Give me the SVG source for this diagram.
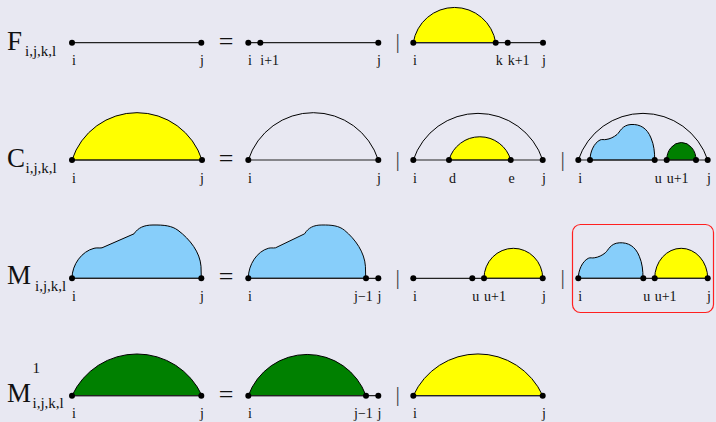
<svg xmlns="http://www.w3.org/2000/svg" width="716" height="422" viewBox="0 0 716 422">
<style>
.bg{fill:#e8e8f2}
.base{stroke:#222;stroke-width:1.2;fill:none}
.arc{stroke:#000;stroke-width:1;fill:none}
.yel{fill:#ffff00;stroke:#000;stroke-width:1}
.blu{fill:#87cefa;stroke:#000;stroke-width:1}
.grn{fill:#008000;stroke:#000;stroke-width:1}
.dot{fill:#000}
.lab{font-family:"Liberation Serif","Times New Roman",serif;font-size:14px;fill:#111}
.big{font-family:"Liberation Serif","Times New Roman",serif;font-size:27px;fill:#111}
.sub{font-family:"Liberation Serif","Times New Roman",serif;font-size:15px;fill:#111}
.op{font-family:"Liberation Serif","Times New Roman",serif;font-size:26px;fill:#111;text-anchor:middle}
.bar{font-family:"Liberation Serif","Times New Roman",serif;font-size:22px;fill:#444;text-anchor:middle}
.box{fill:none;stroke:#ff2020;stroke-width:1.2}
</style>
<defs>
<path id="blobBig" d="M0,0 C0,-14 10,-27 22,-30 C25,-30.8 27,-30 30,-30.5 L62,-44.5 C66,-50.5 72,-53.3 81,-53.3 C92,-53.5 100,-52.5 106,-48 C118,-39 128,-26 129,-12 L129.3,0 Z"/>
<path id="blobSmall" d="M0,0 C0,-8 4,-17 10,-20 C12,-21 14,-20 16,-20.5 C20,-21 24,-23 27,-25.5 C30,-28 32,-35 41,-35.5 C50,-36 57,-32 61,-22 C64,-15 64.7,-8 64.7,0 Z"/>
</defs>
<rect class="bg" x="0" y="0" width="716" height="422"/>

<!-- Row 1: F -->
<g id="rowF">
<text class="big" x="7" y="50">F</text>
<text class="sub" x="25" y="55.5">i,j,k,l</text>
<text class="op" x="226" y="49.5">=</text>
<text class="bar" x="397.7" y="48">|</text>
</g>
<g id="F-lhs">
<line class="base" x1="72" y1="42.7" x2="201.3" y2="42.7"/>
<circle class="dot" cx="72" cy="42.7" r="3"/><circle class="dot" cx="201.3" cy="42.7" r="3"/>
<text class="lab" x="72" y="65.2">i</text><text class="lab" x="200" y="65.2">j</text>
</g>
<g id="F-rhs1">
<line class="base" x1="248.3" y1="42.7" x2="378.3" y2="42.7"/>
<circle class="dot" cx="248.3" cy="42.7" r="3"/><circle class="dot" cx="260.3" cy="42.7" r="3"/><circle class="dot" cx="378.3" cy="42.7" r="3"/>
<text class="lab" x="248" y="65.2">i</text><text class="lab" x="260.3" y="65.2">i+1</text><text class="lab" x="377" y="65.2">j</text>
</g>
<g id="F-rhs2">
<path class="yel" d="M413.3,42.7 A41.7,41.7 0 0 1 495.7,42.7 Z"/>
<line class="base" x1="413.3" y1="42.7" x2="543" y2="42.7"/>
<circle class="dot" cx="413.3" cy="42.7" r="3"/><circle class="dot" cx="495.7" cy="42.7" r="3"/><circle class="dot" cx="507.7" cy="42.7" r="3"/><circle class="dot" cx="543" cy="42.7" r="3"/>
<text class="lab" x="413" y="65.2">i</text><text class="lab" x="495.7" y="65.2">k</text><text class="lab" x="507.7" y="65.2">k+1</text><text class="lab" x="542" y="65.2">j</text>
</g>

<!-- Row 2: C -->
<g id="rowC">
<text class="big" x="7" y="167.3">C</text>
<text class="sub" x="25.5" y="172.7">i,j,k,l</text>
<text class="op" x="226" y="166.8">=</text>
<text class="bar" x="397.7" y="165.5">|</text>
<text class="bar" x="562.7" y="165.5">|</text>
</g>
<g id="C-lhs">
<path class="yel" d="M72,160 A68.3,68.3 0 0 1 202,160 Z"/>
<line class="base" x1="72" y1="160" x2="202" y2="160"/>
<circle class="dot" cx="72" cy="160" r="3"/><circle class="dot" cx="202" cy="160" r="3"/>
<text class="lab" x="72" y="182.5">i</text><text class="lab" x="200" y="182.5">j</text>
</g>
<g id="C-rhs1">
<path class="arc" d="M248.3,160 A68.3,68.3 0 0 1 378.3,160"/>
<line class="base" x1="248.3" y1="160" x2="378.3" y2="160"/>
<circle class="dot" cx="248.3" cy="160" r="3"/><circle class="dot" cx="378.3" cy="160" r="3"/>
<text class="lab" x="248" y="182.5">i</text><text class="lab" x="377" y="182.5">j</text>
</g>
<g id="C-rhs2">
<path class="arc" d="M413.3,160 A68.2,68.2 0 0 1 542.7,160"/>
<path class="yel" d="M449,160 A32.1,32.1 0 0 1 510.7,160 Z"/>
<line class="base" x1="413.3" y1="160" x2="542.7" y2="160"/>
<circle class="dot" cx="413.3" cy="160" r="3"/><circle class="dot" cx="449" cy="160" r="3"/><circle class="dot" cx="510.7" cy="160" r="3"/><circle class="dot" cx="542.7" cy="160" r="3"/>
<text class="lab" x="413" y="182.5">i</text><text class="lab" x="449" y="182.5">d</text><text class="lab" x="508.5" y="182.5">e</text><text class="lab" x="542" y="182.5">j</text>
</g>
<g id="C-rhs3">
<path class="arc" d="M578.3,160 A68.2,68.2 0 0 1 707.7,160"/>
<use href="#blobSmall" class="blu" transform="translate(590,160)"/>
<path class="grn" d="M666.7,160 A14.65,17.5 0 0 1 696,160 Z"/>
<line class="base" x1="578.3" y1="160" x2="707.7" y2="160"/>
<circle class="dot" cx="578.3" cy="160" r="3"/><circle class="dot" cx="590" cy="160" r="3"/><circle class="dot" cx="654.7" cy="160" r="3"/><circle class="dot" cx="666.7" cy="160" r="3"/><circle class="dot" cx="696" cy="160" r="3"/><circle class="dot" cx="707.7" cy="160" r="3"/>
<text class="lab" x="578.3" y="182.5">i</text><text class="lab" x="654.7" y="182.5">u</text><text class="lab" x="666.7" y="182.5">u+1</text><text class="lab" x="707" y="182.5">j</text>
</g>

<!-- Row 3: M -->
<g id="rowM">
<text class="big" x="7" y="284">M</text>
<text class="sub" x="35" y="290.7">i,j,k,l</text>
<text class="op" x="226" y="285.1">=</text>
<text class="bar" x="397.7" y="283.8">|</text>
<text class="bar" x="562.7" y="283.8">|</text>
</g>
<g id="M-lhs">
<use href="#blobBig" class="blu" transform="translate(72,278.3)"/>
<line class="base" x1="72" y1="278.3" x2="201.3" y2="278.3"/>
<circle class="dot" cx="72" cy="278.3" r="3"/><circle class="dot" cx="201.3" cy="278.3" r="3"/>
<text class="lab" x="72" y="300.8">i</text><text class="lab" x="200" y="300.8">j</text>
</g>
<g id="M-rhs1">
<use href="#blobBig" class="blu" vector-effect="non-scaling-stroke" transform="translate(248.3,278.3) scale(0.908,1)"/>
<line class="base" x1="248.3" y1="278.3" x2="378.3" y2="278.3"/>
<circle class="dot" cx="248.3" cy="278.3" r="3"/><circle class="dot" cx="366" cy="278.3" r="3"/><circle class="dot" cx="378.3" cy="278.3" r="3"/>
<text class="lab" x="248" y="300.8">i</text><text class="lab" x="354" y="300.8">j−1</text><text class="lab" x="377.5" y="300.8">j</text>
</g>
<g id="M-rhs2">
<path class="yel" d="M484,278.3 A29.35,30 0 0 1 542.7,278.3 Z"/>
<line class="base" x1="413.3" y1="278.3" x2="542.7" y2="278.3"/>
<circle class="dot" cx="413.3" cy="278.3" r="3"/><circle class="dot" cx="472.3" cy="278.3" r="3"/><circle class="dot" cx="484" cy="278.3" r="3"/><circle class="dot" cx="542.7" cy="278.3" r="3"/>
<text class="lab" x="413" y="300.8">i</text><text class="lab" x="472.3" y="300.8">u</text><text class="lab" x="484" y="300.8">u+1</text><text class="lab" x="542" y="300.8">j</text>
</g>
<g id="M-rhs3">
<rect class="box" x="572.5" y="224.5" width="141" height="88" rx="8"/>
<use href="#blobSmall" class="blu" transform="translate(578.3,278.3)"/>
<path class="yel" d="M654.7,278.3 A26.5,30 0 0 1 707.7,278.3 Z"/>
<line class="base" x1="578.3" y1="278.3" x2="707.7" y2="278.3"/>
<circle class="dot" cx="578.3" cy="278.3" r="3"/><circle class="dot" cx="643.3" cy="278.3" r="3"/><circle class="dot" cx="654.7" cy="278.3" r="3"/><circle class="dot" cx="707.7" cy="278.3" r="3"/>
<text class="lab" x="578.3" y="300.8">i</text><text class="lab" x="643.3" y="300.8">u</text><text class="lab" x="654.7" y="300.8">u+1</text><text class="lab" x="707" y="300.8">j</text>
</g>

<!-- Row 4: M^1 -->
<g id="rowM1">
<text class="big" x="7" y="401.7">M</text>
<text class="sub" x="32.5" y="373.3">1</text>
<text class="sub" x="32.5" y="408.3">i,j,k,l</text>
<text class="op" x="226" y="402.5">=</text>
<text class="bar" x="397.7" y="401.2">|</text>
</g>
<g id="M1-lhs">
<path class="grn" d="M72,395.7 A71.5,71.5 0 0 1 202,395.7 Z"/>
<line class="base" x1="72" y1="395.7" x2="201.3" y2="395.7"/>
<circle class="dot" cx="72" cy="395.7" r="3"/><circle class="dot" cx="201.3" cy="395.7" r="3"/>
<text class="lab" x="72" y="418.2">i</text><text class="lab" x="200" y="418.2">j</text>
</g>
<g id="M1-rhs1">
<path class="grn" d="M248.3,395.7 A62.6,62.6 0 0 1 366,395.7 Z"/>
<line class="base" x1="248.3" y1="395.7" x2="378.3" y2="395.7"/>
<circle class="dot" cx="248.3" cy="395.7" r="3"/><circle class="dot" cx="366" cy="395.7" r="3"/><circle class="dot" cx="378.3" cy="395.7" r="3"/>
<text class="lab" x="248" y="418.2">i</text><text class="lab" x="354" y="418.2">j−1</text><text class="lab" x="377.5" y="418.2">j</text>
</g>
<g id="M1-rhs2">
<path class="yel" d="M413.3,395.7 A71,71 0 0 1 542.7,395.7 Z"/>
<line class="base" x1="413.3" y1="395.7" x2="542.7" y2="395.7"/>
<circle class="dot" cx="413.3" cy="395.7" r="3"/><circle class="dot" cx="542.7" cy="395.7" r="3"/>
<text class="lab" x="413" y="418.2">i</text><text class="lab" x="542" y="418.2">j</text>
</g>
</svg>
